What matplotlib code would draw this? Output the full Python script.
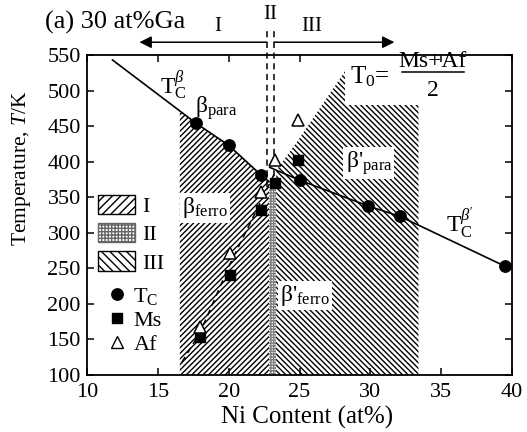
import numpy as np
import matplotlib
matplotlib.use('Agg')
import matplotlib.pyplot as plt
from matplotlib.patches import Patch, Rectangle
from matplotlib.lines import Line2D

plt.rcParams['font.family'] = ['Liberation Serif', 'DejaVu Serif']
plt.rcParams['mathtext.fontset'] = 'custom'
plt.rcParams['mathtext.rm'] = 'Liberation Serif'
plt.rcParams['mathtext.it'] = 'Liberation Serif:italic'
plt.rcParams['mathtext.bf'] = 'Liberation Serif:bold'
plt.rcParams['hatch.linewidth'] = 1.0

# ---------------- data ----------------
tc_x = [17.7, 20.0, 22.3, 25.0, 29.8, 32.1, 39.5]
tc_y = [454, 423, 381, 374, 338, 323, 253]
ms_x = [18.0, 20.1, 22.3, 23.3, 24.9]
ms_y = [153, 241, 332, 370, 402]
af_x = [18.0, 20.1, 22.3, 23.3, 24.9]
af_y = [168, 272, 358, 402, 458]

# Curie temperature lines
tc_beta_x = [11.8, 17.7, 20.0, 22.3, 22.85]
tc_beta_y = [543, 454, 423, 381, 372]
tc_betap_x = [22.9, 25.0, 29.8, 32.1, 39.5]
tc_betap_y = [392, 374, 338, 323, 253]

# T0 = (Ms+Af)/2 and its extensions
t0_y = [(m + a) / 2 for m, a in zip(ms_y, af_y)]
t0_low_x, t0_low_y = 16.7, 118
t0_high_x, t0_high_y = 28.2, 527

# regions
region1_x = (16.55, 22.85)
region2_x = (22.85, 23.35)
region2_top = 364
region3_x = (23.35, 33.4)
region3_cap = 480
phase_bounds_x = [22.7, 23.2]

xticks = [10, 15, 20, 25, 30, 35, 40]
yticks = [100, 150, 200, 250, 300, 350, 400, 450, 500, 550]

HATCH_I = '//////'
HATCH_II = '++++++'
HATCH_III = '\\\\\\\\\\\\'

# ---------------- figure ----------------
fig = plt.figure(figsize=(5.27, 4.32), dpi=100)
ax = fig.add_axes([87/527, 1-375/432, 425/527, 320/432])
ax.set_xlim(10, 40)
ax.set_ylim(100, 550)

# Region I
x1 = np.linspace(region1_x[0], region1_x[1], 200)
top1 = np.interp(x1, tc_beta_x, tc_beta_y)
ax.fill_between(x1, 100, top1, facecolor='white', edgecolor='black',
                hatch=HATCH_I, linewidth=0, zorder=1)
# Region II
ax.fill_between(list(region2_x), 100, region2_top, facecolor='white',
                edgecolor='0.5', hatch=HATCH_II, linewidth=0, zorder=1)
# Region III
t0_line_x = [t0_low_x] + ms_x + [t0_high_x, 40]
t0_line_y = [t0_low_y] + t0_y + [t0_high_y, t0_high_y + (40 - t0_high_x) * 27]
x3 = np.linspace(region3_x[0], region3_x[1], 400)
top3 = np.minimum(np.interp(x3, t0_line_x, t0_line_y), 550)
ax.fill_between(x3, 100, top3, facecolor='white', edgecolor='black',
                hatch=HATCH_III, linewidth=0, zorder=1)
# white background for T0 label
ax.add_patch(Rectangle((t0_high_x, region3_cap), 6, 550 - region3_cap,
                       facecolor='white', edgecolor='none', zorder=2))

# lines
ax.plot(tc_beta_x, tc_beta_y, color='black', lw=1.2, zorder=3)
ax.plot(tc_betap_x, tc_betap_y, color='black', lw=1.2, zorder=3)
ax.plot([t0_low_x] + ms_x[:4], [t0_low_y] + t0_y[:4], color='black',
        lw=1.1, ls=(0, (4, 3)), zorder=3)
for xb in phase_bounds_x:
    ax.plot([xb, xb], [region2_top, 585], color='black', lw=1.1,
            ls=(0, (4, 3)), zorder=3, clip_on=False)

# markers
ax.plot(tc_x, tc_y, 'o', color='black', ms=8.2, zorder=5, clip_on=False)
ax.plot(ms_x, ms_y, 's', color='black', ms=7.8, zorder=5)
ax.plot(af_x, af_y, '^', mfc='white', mec='black', mew=1.1, ms=8, zorder=6)

# phase labels
wb = dict(facecolor='white', edgecolor='none', pad=1.5)
ax.text(16.1, 508, r'T$_\mathrm{C}^{\beta}$', fontsize=17, ha='center', va='center', zorder=7)
ax.text(19.1, 475, r'β$_\mathrm{para}$', fontsize=17, ha='center', va='center', zorder=7)
ax.text(18.3, 335, r'β$_\mathrm{ferro}$', fontsize=17, ha='center', va='center', zorder=7, bbox=wb)
ax.text(29.9, 398, r"β'$_\mathrm{para}$", fontsize=17, ha='center', va='center', zorder=7, bbox=wb)
ax.text(25.4, 212, r"β'$_\mathrm{ferro}$", fontsize=17, ha='center', va='center', zorder=7, bbox=wb)
ax.text(36.3, 314, r"T$_\mathrm{C}^{\beta'}$", fontsize=17, ha='center', va='center', zorder=7)
# T0 label
ax.text(30.0, 519, r'T$_0$=', fontsize=18, ha='center', va='center', zorder=7)
ax.text(34.4, 533, 'Ms+Af', fontsize=17, ha='center', va='baseline', zorder=7)
ax.plot([32.2, 36.6], [526, 526], color='black', lw=1.1, zorder=7)
ax.text(34.4, 492, '2', fontsize=17, ha='center', va='baseline', zorder=7)

# arrows & region names above
ax.annotate('', xy=(13.7, 568), xytext=(phase_bounds_x[0], 568),
            arrowprops=dict(arrowstyle='-|>', color='black', lw=1.1,
                            mutation_scale=18, shrinkA=0, shrinkB=0),
            annotation_clip=False)
ax.annotate('', xy=(31.7, 568), xytext=(phase_bounds_x[1], 568),
            arrowprops=dict(arrowstyle='-|>', color='black', lw=1.1,
                            mutation_scale=18, shrinkA=0, shrinkB=0),
            annotation_clip=False)
ax.text(19.25, 590, 'I', fontsize=15, ha='center', va='center')
ax.text(22.95, 607, 'II', fontsize=15, ha='center', va='center')
ax.text(25.9, 590, 'III', fontsize=15, ha='center', va='center')
fig.text(45/527, 1-22/432, '(a) 30 at%Ga', fontsize=19, ha='left', va='center')

# legends
ph = [Patch(facecolor='white', edgecolor='black', hatch='////', label='I'),
      Patch(facecolor='white', edgecolor='0.4', hatch='+++++', label='II'),
      Patch(facecolor='white', edgecolor='black', hatch='\\\\\\\\', label='III')]
leg1 = ax.legend(handles=ph, loc='upper left', bbox_to_anchor=(0.026, 0.5625),
                 frameon=False, fontsize=16, handlelength=1.67, handleheight=0.95,
                 labelspacing=0.27, handletextpad=0.3, borderpad=0, borderaxespad=0)
ax.add_artist(leg1)
mh = [Line2D([], [], marker='o', ls='none', color='black', ms=8.2, label=r'T$_\mathrm{C}$'),
      Line2D([], [], marker='s', ls='none', color='black', ms=7.8, label='Ms'),
      Line2D([], [], marker='^', ls='none', mfc='white', mec='black', ms=8, label='Af')]
leg2 = ax.legend(handles=mh, loc='upper left', bbox_to_anchor=(0.044, 0.278),
                 frameon=False, fontsize=16, handlelength=1.0, labelspacing=0.16,
                 handletextpad=0.25, borderpad=0, borderaxespad=0)
for l in [leg1, leg2]:
    l.set_zorder(8)

# axes styling
ax.set_xticks(xticks)
ax.set_yticks(yticks)
ax.tick_params(direction='in', top=True, right=True, length=5, width=1.1,
               labelsize=16)
ax.tick_params(axis='x', pad=6)
ax.tick_params(axis='y', pad=4.5)
for s in ax.spines.values():
    s.set_linewidth(1.3)
ax.set_xlabel('Ni Content (at%)', fontsize=18)
ax.set_ylabel(r'Temperature, $T$/K', fontsize=15.5)
ax.xaxis.set_label_coords(0.518, -0.098)
ax.xaxis.label.set_va('top')
ax.yaxis.set_label_coords(-0.127, 0.647)

fig.savefig('out.png', dpi=100)
